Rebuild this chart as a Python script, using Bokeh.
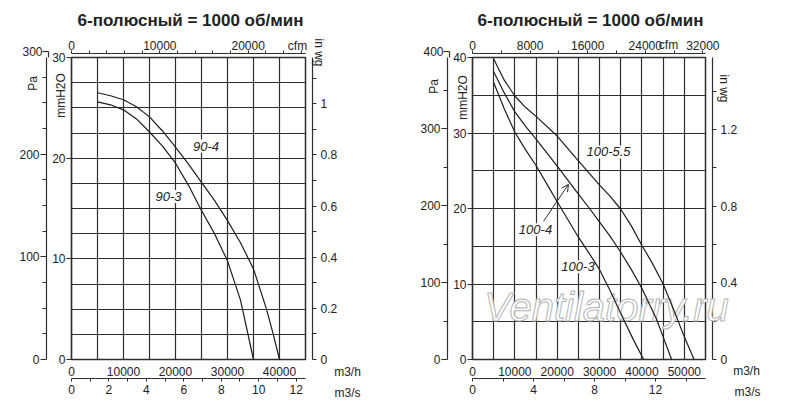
import math

import bokeh.plotting
from bokeh.core.properties import value
from bokeh.embed import file_html
from bokeh.layouts import row
from bokeh.models import Arrow, FixedTicker, Grid, Label, LinearAxis, OpenHead, Range1d
from bokeh.resources import INLINE

title_text = '6-полюсный = 1000 об/мин'

# fan curves: flow in m3/h, static pressure in mmH2O
flow_90_4 = [5000, 7500, 10000, 12500, 15000, 17500, 20000, 22500, 25000, 27500, 30000, 32500, 35000, 37500, 38750, 40000]
pres_90_4 = [26.5, 26.2, 25.8, 25.1, 24.1, 22.7, 21.1, 19.4, 17.6, 15.8, 13.8, 11.6, 9.0, 5.0, 2.6, 0.0]
flow_90_3 = [5000, 7500, 10000, 12500, 15000, 17500, 20000, 22500, 25000, 27500, 30000, 32500, 35000]
pres_90_3 = [25.6, 25.3, 24.8, 23.9, 22.6, 21.2, 19.5, 17.3, 14.8, 12.5, 9.8, 5.9, 0.0]

flow_100_55 = [5000, 7500, 10000, 12500, 15000, 20000, 25000, 30000, 32500, 35000, 37500, 40000, 42500, 45000, 47500, 50000, 52300]
pres_100_55 = [39.8, 37.0, 34.9, 33.4, 32.2, 29.6, 26.3, 23.1, 21.6, 19.9, 17.7, 15.1, 12.7, 10.0, 6.6, 3.0, 0.0]
flow_100_4 = [5000, 7500, 10000, 12500, 15000, 20000, 25000, 27500, 30000, 32500, 35000, 37500, 40000, 43400, 45000, 47000]
pres_100_4 = [38.1, 35.3, 32.8, 30.9, 29.2, 25.6, 21.9, 20.1, 18.2, 16.3, 14.2, 11.9, 9.4, 5.4, 3.0, 0.0]
flow_100_3 = [5000, 7500, 10000, 12500, 15000, 17500, 20000, 22500, 25000, 27500, 30000, 32500, 35000, 38000, 40400]
pres_100_3 = [36.7, 33.2, 30.1, 27.8, 25.7, 23.3, 20.9, 18.55, 16.2, 14.1, 11.9, 9.1, 6.1, 2.6, 0.0]

# ticks of the left chart
left_m3h_ticks = [0, 10000, 20000, 30000, 40000]
left_m3s_ticks = [0, 2, 4, 6, 8, 10, 12]
left_m3s_minor = [1, 3, 5, 7, 9, 11]
left_cfm_ticks = [0, 10000, 20000]
left_cfm_minor = [2000, 4000, 6000, 8000, 12000, 14000, 16000, 18000, 22000, 24000, 26000]
left_mm_ticks = [0, 10, 20, 30]
left_pa_ticks = [0, 100, 200, 300]
left_pa_minor = [25, 50, 75, 125, 150, 175, 225, 250, 275]
left_inwg_ticks = [0, 0.2, 0.4, 0.6, 0.8, 1.0]
left_inwg_labels = ['0', '0.2', '0.4', '0.6', '0.8', '1']
left_inwg_minor = [0.1, 0.3, 0.5, 0.7, 0.9, 1.1]
left_grid_x = [5000, 10000, 15000, 20000, 25000, 30000, 35000, 40000]
left_grid_y = [2.5, 5, 7.5, 10, 12.5, 15, 17.5, 20, 22.5, 25, 27.5]

# ticks of the right chart
right_m3h_ticks = [0, 10000, 20000, 30000, 40000, 50000]
right_m3s_ticks = [0, 4, 8, 12]
right_m3s_minor = [2, 6, 10, 14]
right_cfm_ticks = [0, 8000, 16000, 24000, 32000]
right_cfm_minor = [4000, 12000, 20000, 28000]
right_mm_ticks = [0, 10, 20, 30, 40]
right_pa_ticks = [0, 100, 200, 300, 400]
right_pa_minor = [50, 150, 250, 350]
right_inwg_ticks = [0, 0.4, 0.8, 1.2]
right_inwg_labels = ['0', '0.4', '0.8', '1.2']
right_inwg_minor = [0.2, 0.6, 1.0, 1.4]
right_grid_x = [5000, 10000, 15000, 20000, 25000, 30000, 35000, 40000, 45000, 50000]
right_grid_y = [5, 10, 15, 20, 25, 30, 35]

PA_PER_MM = 9.80665
MM_PER_INWG = 25.4
M3H_PER_CFM = 1.699011
M3H_PER_M3S = 3600.0

INK = '#2e2e2e'
TEXT = '#222222'
FONT = 'Liberation Sans'
FRAME_TOP = 57
FRAME_HEIGHT = 302


def make_axis(ticks, minor=None, out=4, minor_out=None, standoff=2, labels=None, **names):
    ax = LinearAxis(ticker=FixedTicker(ticks=ticks, minor_ticks=minor or []), **names)
    ax.major_tick_in = 0
    ax.minor_tick_in = 0
    ax.major_tick_out = out
    ax.minor_tick_out = (out if minor_out is None else minor_out) if minor else 0
    ax.major_label_standoff = standoff
    ax.axis_line_color = INK
    ax.axis_line_width = 1.2
    ax.major_tick_line_color = INK
    ax.minor_tick_line_color = INK
    ax.major_label_text_font = FONT
    ax.major_label_text_font_size = '12px'
    ax.major_label_text_color = TEXT
    if labels:
        ax.major_label_overrides = dict(zip(ticks, labels))
    return ax


def spacer(gap, mid, **names):
    # an axis with one blank label and nothing drawn: only leaves a small gap
    return LinearAxis(ticker=FixedTicker(ticks=[mid]), major_label_overrides={mid: ' '},
                      major_label_text_font_size='1px', major_label_standoff=gap,
                      axis_line_color=None, major_tick_line_color=None, minor_tick_line_color=None,
                      major_tick_out=0, major_tick_in=0, minor_tick_out=0, minor_tick_in=0, **names)


def make_chart(x_end, y_end, frame_width, left, right, ticks):
    p = bokeh.plotting.figure(frame_width=frame_width, frame_height=FRAME_HEIGHT,
                              x_range=Range1d(0, x_end), y_range=Range1d(0, y_end),
                              x_axis_type=None, y_axis_type=None,
                              min_border_left=left, min_border_right=right,
                              min_border_top=FRAME_TOP, min_border_bottom=59,
                              toolbar_location=None, output_backend='svg',
                              background_fill_color='white', border_fill_color='white',
                              outline_line_color=INK, outline_line_width=1.5)
    p.extra_x_ranges = {'cfm': Range1d(0, x_end / M3H_PER_CFM), 'm3s': Range1d(0, x_end / M3H_PER_M3S)}
    p.extra_y_ranges = {'pa': Range1d(0, y_end * PA_PER_MM), 'inwg': Range1d(0, y_end / MM_PER_INWG)}

    p.add_layout(Grid(dimension=0, ticker=FixedTicker(ticks=ticks['grid_x']),
                      grid_line_color=INK, grid_line_width=1.2))
    p.add_layout(Grid(dimension=1, ticker=FixedTicker(ticks=ticks['grid_y']),
                      grid_line_color=INK, grid_line_width=1.2))

    p.add_layout(make_axis(ticks['mm'], out=5, standoff=1), 'left')
    p.add_layout(spacer(0, y_end / 2), 'left')
    p.add_layout(make_axis(ticks['pa'], ticks['pa_minor'], out=6, minor_out=4, standoff=1,
                           y_range_name='pa'), 'left')

    p.add_layout(spacer(4, y_end / 2), 'right')
    p.add_layout(make_axis(ticks['inwg'], ticks['inwg_minor'], out=4, standoff=4,
                           labels=ticks['inwg_labels'], y_range_name='inwg'), 'right')

    p.add_layout(spacer(0, x_end / 2), 'above')
    p.add_layout(make_axis(ticks['cfm'], ticks['cfm_minor'], out=3, standoff=1,
                           x_range_name='cfm'), 'above')

    p.add_layout(make_axis(ticks['m3h'], out=0, standoff=7), 'below')
    p.add_layout(make_axis(ticks['m3s'], ticks['m3s_minor'], out=3, standoff=3,
                           x_range_name='m3s'), 'below')
    return p


def page_to_data(frame, px, py):
    frame_left, frame_width, x_end, y_end = frame
    return ((px - frame_left) / frame_width * x_end,
            (FRAME_TOP + FRAME_HEIGHT - py) / FRAME_HEIGHT * y_end)


def put_text(p, frame, px, py, text, angle=0.0, size='12px', style='normal', color=TEXT, **kw):
    # text placed by its pixel position on the page; level overlay keeps it from the frame clip
    x, y = page_to_data(frame, px, py)
    return p.text(x=[x], y=[y], text=[text], angle=angle, text_font=value(FONT),
                  text_font_size=value(size), text_font_style=style, text_color=color,
                  text_align='center', text_baseline='middle', level='overlay', **kw)


def pa_top_tick(p, frame, axis_px, pa_value):
    # the top Pa tick sits a little above the frame, where the Pa axis cannot reach
    frame_left, frame_width, x_end, y_end = frame
    y_top = pa_value / PA_PER_MM
    x_axis = page_to_data(frame, axis_px, 0)[0]
    x_tick = page_to_data(frame, axis_px - 6, 0)[0]
    x_text = page_to_data(frame, axis_px - 16, 0)[0]
    p.segment(x0=[x_axis, x_tick], y0=[y_end, y_top], x1=[x_axis, x_axis], y1=[y_top, y_top],
              line_color=INK, line_width=1.2, level='overlay')
    p.text(x=[x_text], y=[y_top], text=[str(pa_value)], text_font=value(FONT),
           text_font_size=value('12px'), text_color=TEXT, text_align='center',
           text_baseline='middle', level='overlay')


def tag(x, y, text):
    return Label(x=x, y=y, text=text, text_font=FONT, text_font_size='13px', text_font_style='italic',
                 text_color=TEXT, text_align='center', text_baseline='middle',
                 background_fill_color='white', padding=2)


left_ticks = {'grid_x': left_grid_x, 'grid_y': left_grid_y, 'mm': left_mm_ticks,
              'pa': left_pa_ticks, 'pa_minor': left_pa_minor,
              'inwg': left_inwg_ticks, 'inwg_minor': left_inwg_minor, 'inwg_labels': left_inwg_labels,
              'cfm': left_cfm_ticks, 'cfm_minor': left_cfm_minor,
              'm3h': left_m3h_ticks, 'm3s': left_m3s_ticks, 'm3s_minor': left_m3s_minor}
right_ticks = {'grid_x': right_grid_x, 'grid_y': right_grid_y, 'mm': right_mm_ticks,
               'pa': right_pa_ticks, 'pa_minor': right_pa_minor,
               'inwg': right_inwg_ticks, 'inwg_minor': right_inwg_minor, 'inwg_labels': right_inwg_labels,
               'cfm': right_cfm_ticks, 'cfm_minor': right_cfm_minor,
               'm3h': right_m3h_ticks, 'm3s': right_m3s_ticks, 'm3s_minor': right_m3s_minor}

curve_style = dict(line_color='#1e1e1e', line_width=1.2, level='overlay')

# left chart: 90 series
p1 = make_chart(45000, 30, 234, 71, 95, left_ticks)
f1 = (71, 234, 45000, 30)
p1.line(flow_90_4, pres_90_4, **curve_style)
p1.line(flow_90_3, pres_90_3, **curve_style)
p1.add_layout(tag(25865, 21.2, '90-4'))
p1.add_layout(tag(18650, 16.2, '90-3'))
pa_top_tick(p1, f1, 48, left_pa_ticks[-1])

put_text(p1, f1, 190, 20, title_text, size='17px', style='bold')
put_text(p1, f1, 32, 83, 'Pa', angle=math.pi / 2)
put_text(p1, f1, 60, 95, 'mmH2O', angle=math.pi / 2)
put_text(p1, f1, 318, 52, 'in wg', angle=-math.pi / 2)
put_text(p1, f1, 297, 45, 'cfm')
put_text(p1, f1, 347, 371, 'm3/h')
put_text(p1, f1, 347, 392, 'm3/s')

# right chart: 100 series
p2 = make_chart(55000, 40, 233, 72, 94, right_ticks)
f2 = (472, 233, 55000, 40)
put_text(p2, f2, 606, 306, 'Ventilatorry.ru', size='40px', style='italic',
         color='white', text_outline_color='#b4b4b4')
p2.line(flow_100_55, pres_100_55, **curve_style)
p2.line(flow_100_4, pres_100_4, **curve_style)
p2.line(flow_100_3, pres_100_3, **curve_style)
p2.add_layout(tag(32100, 27.5, '100-5.5'))
p2.add_layout(tag(14870, 17.2, '100-4'))
p2.add_layout(tag(24900, 12.3, '100-3'))
p2.add_layout(Arrow(end=OpenHead(size=7, line_color=INK, line_width=1),
                    x_start=16760, y_start=18.3, x_end=22660, y_end=23.2,
                    line_color=INK, line_width=1))
pa_top_tick(p2, f2, 449, right_pa_ticks[-1])

put_text(p2, f2, 590, 20, title_text, size='17px', style='bold')
put_text(p2, f2, 433, 86, 'Pa', angle=math.pi / 2)
put_text(p2, f2, 462, 97, 'mmH2O', angle=math.pi / 2)
put_text(p2, f2, 723, 88, 'in wg', angle=-math.pi / 2)
put_text(p2, f2, 668, 44, 'cfm')
put_text(p2, f2, 746, 370, 'm3/h')
put_text(p2, f2, 747, 391, 'm3/s')

layout = row(p1, p2)
open('out.html', 'w').write(file_html(layout, INLINE, title='6-полюсный'))
